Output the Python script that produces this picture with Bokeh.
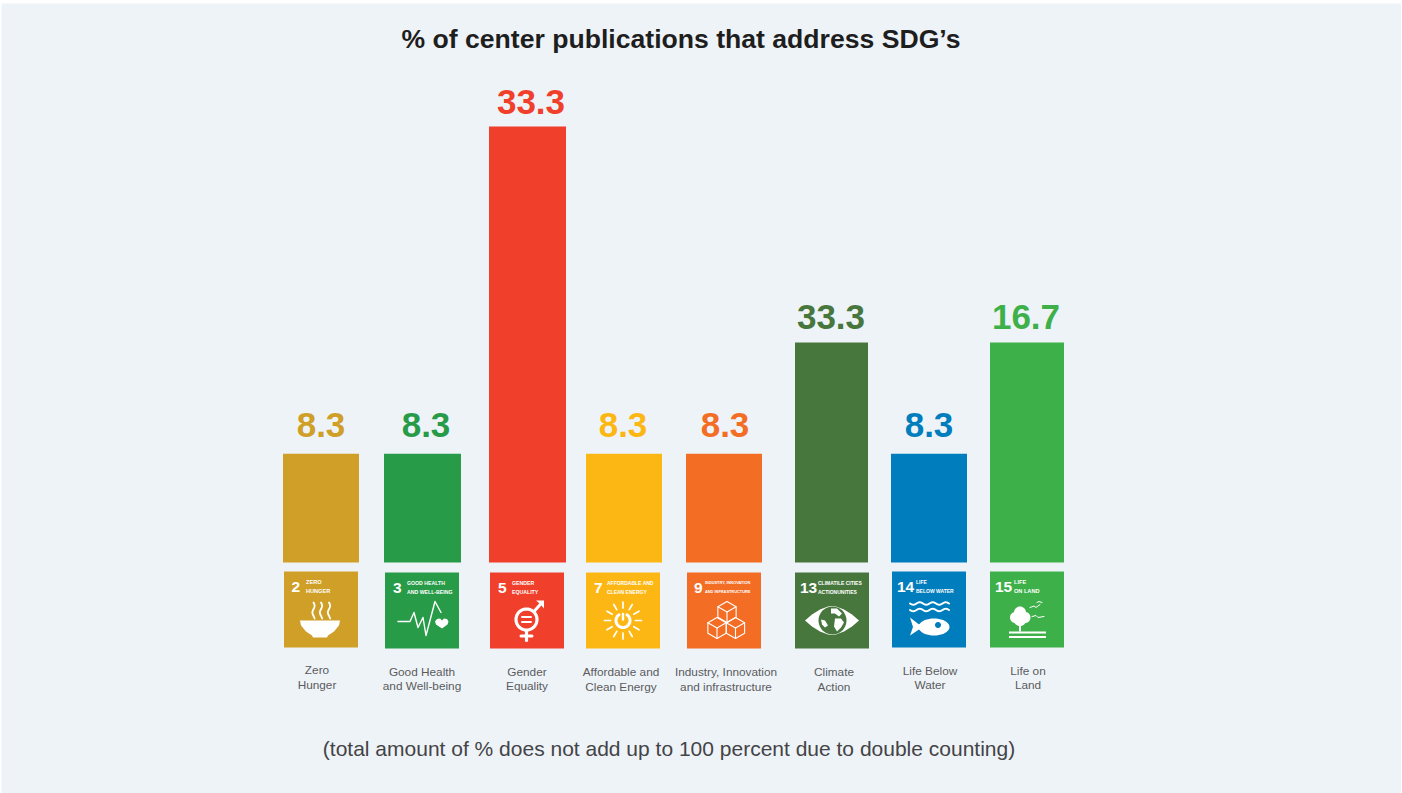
import math
from bokeh.plotting import figure
from bokeh.embed import file_html
from bokeh.resources import INLINE
from bokeh.core.properties import value

# ---- data ----
title = "% of center publications that address SDG\u2019s"
footnote = "(total amount of % does not add up to 100 percent due to double counting)"
goals = ["Zero Hunger", "Good Health and Well-being", "Gender Equality", "Affordable and Clean Energy",
         "Industry, Innovation and infrastructure", "Climate Action", "Life Below Water", "Life on Land"]
bar_heights = [8.3, 8.3, 33.3, 8.3, 8.3, 16.8, 8.3, 16.8]
bar_labels = ["8.3", "8.3", "33.3", "8.3", "8.3", "33.3", "8.3", "16.7"]
label_lines = [["Zero", "Hunger"], ["Good Health", "and Well-being"], ["Gender", "Equality"],
               ["Affordable and", "Clean Energy"], ["Industry, Innovation", "and infrastructure"],
               ["Climate", "Action"], ["Life Below", "Water"], ["Life on", "Land"]]
sdg_numbers = ["2", "3", "5", "7", "9", "13", "14", "15"]
sdg_titles = [["ZERO", "HUNGER"], ["GOOD HEALTH", "AND WELL-BEING"], ["GENDER", "EQUALITY"],
              ["AFFORDABLE AND", "CLEAN ENERGY"], ["INDUSTRY, INNOVATION", "AND INFRASTRUCTURE"],
              ["CLIMATILE CITIES", "ACTIONUNITIES"], ["LIFE", "BELOW WATER"], ["LIFE", "ON LAND"]]

# ---- style and layout (page pixels) ----
colors = ["#CF9F28", "#279B48", "#F03F2B", "#FDB714", "#F36D25", "#48773E", "#007DBC", "#3EB049"]
BG = "#EEF3F8"
GREY = "#5A5B5D"
FONT = "Liberation Sans"
bar_left = [283, 384, 489, 586, 686, 795, 891, 990]
bar_right = [359, 461, 566, 662, 762, 868, 967, 1064]
val_x = [321, 426, 531, 623, 725, 831, 929, 1026]
val_y = [425, 425, 102, 425, 425, 317, 425, 317]
tile_left = [284, 385, 490, 586, 687, 795, 892, 990]
tile_top = [572, 573, 573, 573, 573, 573, 572, 572]
TILE = 74
lab_x = [317, 422, 527, 621, 726, 834, 930, 1028]
lab_y = [(670, 685), (672, 686), (672, 686), (672, 687), (672, 687), (672, 687), (671, 685), (671, 685)]
num_u = [7.5, 8, 8, 8, 7, 5, 5, 5]
ttl_u = [22, 22, 22, 21, 18, 23, 24, 24]
ttl_size = [5.6, 5.2, 5.2, 5.0, 3.9, 5.0, 5.0, 5.6]

PX = 13.09      # pixels per percentage point
BASE = 563
W, H = 1400, 790
X0, Y0 = 1.5, 4


def vy(py):
    return (BASE - py) / PX


p = figure(width=W, height=H, output_backend="svg", toolbar_location=None,
           x_range=(X0, X0 + W), y_range=(vy(Y0 + H), vy(Y0)),
           x_axis_type="linear", min_border=0, outline_line_color=None,
           background_fill_color=BG, border_fill_color=BG)
p.margin = (3, 0, 0, 1)
p.axis.visible = False
p.grid.visible = False

# bars
p.quad(left=bar_left, right=bar_right, bottom=[0] * 8, top=bar_heights, fill_color=colors, line_color=None)


def txt(x, py, s, size, color, bold=False, font=FONT, align="center"):
    p.text([x], [vy(py)], text=[s], text_font=value(font), text_font_size=f"{size}px",
           text_font_style="bold" if bold else "normal", text_color=color,
           text_align=align, text_baseline="middle")


txt(681, 39, title, 26.6, "#1E1E1E", True)
txt(669, 749, footnote, 21, "#444446")
for i in range(8):
    txt(val_x[i], val_y[i], bar_labels[i], 35, colors[i], True)
    txt(lab_x[i], lab_y[i][0], label_lines[i][0], 11.8, GREY)
    txt(lab_x[i], lab_y[i][1], label_lines[i][1], 11.8, GREY)

# tiles
p.quad(left=tile_left, right=[l + TILE for l in tile_left],
       top=[vy(t) for t in tile_top], bottom=[vy(t + 76) for t in tile_top],
       fill_color=colors, line_color=None)

WHITE = "white"


def tx(i, u):
    return tile_left[i] + u


def ty(i, v):
    return vy(tile_top[i] + v)


def poly(i, pts, color=WHITE):
    p.patch([tx(i, a) for a, b in pts], [ty(i, b) for a, b in pts], fill_color=color, line_color=None)


def line(i, pts, w=1.5, color=WHITE):
    p.line([tx(i, a) for a, b in pts], [ty(i, b) for a, b in pts], line_color=color, line_width=w,
           line_cap="round", line_join="round")


def ell(cx, cy, rx, ry, a0=0.0, a1=360.0, n=40):
    return [(cx + rx * math.cos(math.radians(a0 + (a1 - a0) * k / n)),
             cy + ry * math.sin(math.radians(a0 + (a1 - a0) * k / n))) for k in range(n + 1)]


def wave(u0, u1, v, amp, n=3):
    pts = []
    steps = 12 * n
    for k in range(steps + 1):
        t = k / steps
        pts.append((u0 + (u1 - u0) * t, v + amp * math.sin(t * n * 2 * math.pi)))
    return pts


for i in range(8):
    txt(tx(i, num_u[i]), tile_top[i] + 15, sdg_numbers[i], 15.5, WHITE, True, FONT, "left")
    txt(tx(i, ttl_u[i]), tile_top[i] + 10, sdg_titles[i][0], ttl_size[i], WHITE, True, FONT, "left")
    txt(tx(i, ttl_u[i]), tile_top[i] + 19, sdg_titles[i][1], ttl_size[i], WHITE, True, FONT, "left")

# 2 - bowl and steam
poly(0, [(16, 49), (56, 49), (55, 54), (50, 60), (44, 64), (43, 66), (29, 66), (28, 64), (22, 60), (17, 54)])
for u in (28.5, 36, 44):
    line(0, [(u + 1.2 * math.sin(k / 8 * 2 * math.pi * 1.2) + 1, 31 + 2 * k) for k in range(9)], 1.8)

# 3 - pulse and heart
line(1, [(13, 49), (25, 49), (29, 40), (33, 55), (38, 45), (41, 63), (50, 29), (56, 40)], 1.4)
poly(1, [(50, 49), (52, 46.5), (55, 46), (57, 48), (59, 46), (62, 46.5), (63.5, 49), (62.5, 52), (57, 56), (51, 52)])

# 5 - gender symbol
line(2, ell(36.5, 47, 10.5, 10.5), 3.2)
line(2, [(36.5, 58), (36.5, 68)], 3.2)
line(2, [(31, 63.5), (42, 63.5)], 3)
line(2, [(44, 39), (52, 30)], 3)
poly(2, [(46, 28), (54, 28), (54, 36), (51.5, 33), (49, 30.5)])
line(2, [(32, 44.5), (41, 44.5)], 2)
line(2, [(32, 49.5), (41, 49.5)], 2)

# 7 - sun with power symbol
line(3, ell(37, 48, 7, 7, -55, 235), 3)
line(3, [(37, 41.5), (37, 47)], 2.4)
for k in range(12):
    a = math.radians(k * 30 + 90)
    line(3, [(37 + 12.5 * math.cos(a), 48 + 12.5 * math.sin(a)),
             (37 + 18.5 * math.cos(a), 48 + 18.5 * math.sin(a))], 1.7)

# 9 - cubes
for cx, cy in ((40, 39.5), (30, 55.5), (48.5, 55.5)):
    r = 10.5
    hexa = [(cx, cy - r), (cx + r * .87, cy - r / 2), (cx + r * .87, cy + r / 2), (cx, cy + r),
            (cx - r * .87, cy + r / 2), (cx - r * .87, cy - r / 2), (cx, cy - r)]
    line(4, hexa, 1.1)
    line(4, [(cx - r * .87, cy - r / 2), (cx, cy), (cx + r * .87, cy - r / 2)], 1.1)
    line(4, [(cx, cy), (cx, cy + r)], 1.1)

# 13 - eye and globe
poly(5, [(10, 48), (17, 42), (25, 37), (33, 34), (37, 33.5), (41, 34), (49, 37), (57, 42), (64, 48),
         (57, 54), (49, 59), (41, 62), (37, 62.5), (33, 62), (25, 59), (17, 54)])
poly(5, ell(37.5, 48, 14, 14), colors[5])
poly(5, [(36, 36), (42, 36), (47, 41), (44, 44), (40, 41), (36, 41)])
poly(5, [(40, 46), (46, 46), (49, 50), (46, 55), (42, 59), (39, 54)])
poly(5, [(26, 47), (30, 48), (33, 53), (30, 55), (27, 52)])

# 14 - waves and fish
line(6, wave(18, 57, 32, 1.3, 3), 2)
line(6, wave(18, 57, 38.5, 1.3, 3), 2)
poly(6, ell(42, 55.5, 15.5, 8.5) + [(27, 58), (18, 64), (21, 55.5), (18, 46), (27, 53)])
poly(6, ell(46, 53.5, 3, 3), colors[6])

# 15 - tree, ground, birds
for cx, cy, r in ((30, 41, 6), (25.5, 46, 5.5), (35, 46, 5.5), (30, 48, 6.5)):
    poly(7, ell(cx, cy, r, r))
poly(7, [(29, 54), (31, 54), (31, 60), (29, 60)])
poly(7, [(19, 60), (56, 60), (56, 62), (19, 62)])
poly(7, [(19, 64.5), (56, 64.5), (56, 66.5), (19, 66.5)])
line(7, [(40, 36), (44, 34.5), (46, 36), (50, 33)], 1)
line(7, [(47, 31), (49, 30), (52, 31)], 1)
line(7, [(42, 45), (46, 44), (48, 46), (54, 45)], 1)

open("out.html", "w").write(file_html(p, INLINE))
